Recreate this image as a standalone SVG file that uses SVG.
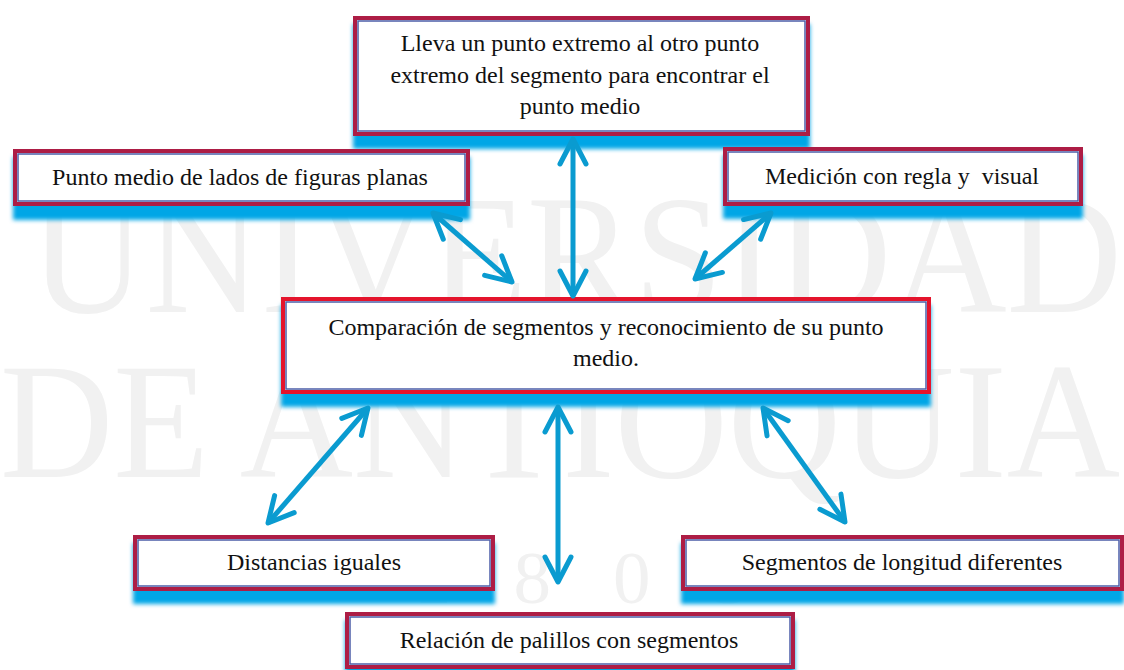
<svg xmlns="http://www.w3.org/2000/svg" width="1124" height="670" viewBox="0 0 1124 670">
<style>
.wm{font-family:"Liberation Serif","Times New Roman",serif;fill:#f1f1f1}
.t{font-family:"Liberation Serif","Times New Roman",serif;font-size:24px;fill:#111;text-anchor:middle}
.box{fill:#fff;stroke:#ad1d45;stroke-width:4}
.boxc{fill:#fff;stroke:#e4142c;stroke-width:4}
.inner{fill:none;stroke:#4c5ea8;stroke-width:1.5}
.sh{fill:#00a6e6;filter:url(#blur)}
.con{fill:none;stroke:#0a9bd0;stroke-width:5;marker-start:url(#ah);marker-end:url(#ah)}
</style>
<defs>
<filter id="blur" x="-10%" y="-40%" width="120%" height="180%"><feGaussianBlur stdDeviation="2"/></filter>
<marker id="ah" markerUnits="userSpaceOnUse" orient="auto-start-reverse" refX="0" refY="0" markerWidth="60" markerHeight="60" viewBox="-30 -30 60 60" overflow="visible">
<path d="M-25,-13 L0,0 L-25,13" fill="none" stroke="#0a9bd0" stroke-width="5" stroke-linecap="round" stroke-linejoin="round"/>
</marker>
</defs>
<rect width="1124" height="670" fill="#fff"/>
<g id="watermark">
<text class="wm" x="30" y="312" font-size="170" textLength="1092" lengthAdjust="spacingAndGlyphs">UNIVERSIDAD</text>
<text class="wm" x="0" y="477" font-size="166" textLength="1120" lengthAdjust="spacingAndGlyphs">DE ANTIOQUIA</text>
<text class="wm" x="414" y="603" font-size="75" letter-spacing="62">1803</text>
</g>
<g id="n-top">
<rect class="sh" x="353" y="24" width="457" height="125"/>
<rect class="box" x="355" y="18" width="453" height="116"/>
<rect class="inner" x="358" y="21" width="447" height="110"/>
<text class="t" x="580" y="51">Lleva un punto extremo al otro punto</text>
<text class="t" x="580" y="83">extremo del segmento para encontrar el</text>
<text class="t" x="580" y="114">punto medio</text>
</g>
<g id="n-left">
<rect class="sh" x="13" y="157" width="457" height="63"/>
<rect class="box" x="15" y="151" width="453" height="53"/>
<rect class="inner" x="18" y="154" width="447" height="47"/>
<text class="t" x="240" y="185">Punto medio de lados de figuras planas</text>
</g>
<g id="n-right">
<rect class="sh" x="723" y="155" width="360" height="64"/>
<rect class="box" x="725" y="149" width="356" height="55"/>
<rect class="inner" x="728" y="152" width="350" height="49"/>
<text class="t" x="902" y="184" xml:space="preserve">Medición con regla y  visual</text>
</g>
<g id="n-center">
<rect class="sh" x="281" y="305" width="650" height="102"/>
<rect class="boxc" x="283" y="299" width="646" height="93"/>
<rect class="inner" x="286" y="302" width="640" height="87"/>
<text class="t" x="606" y="335">Comparación de segmentos y reconocimiento de su punto</text>
<text class="t" x="606" y="366">medio.</text>
</g>
<g id="n-dist">
<rect class="sh" x="133" y="543" width="362" height="61"/>
<rect class="box" x="135" y="537" width="358" height="52"/>
<rect class="inner" x="138" y="540" width="352" height="46"/>
<text class="t" x="314" y="570">Distancias iguales</text>
</g>
<g id="n-seg">
<rect class="sh" x="681" y="543" width="443" height="61"/>
<rect class="box" x="683" y="537" width="439" height="52"/>
<rect class="inner" x="686" y="540" width="433" height="46"/>
<text class="t" x="902" y="570">Segmentos de longitud diferentes</text>
</g>
<g id="n-rel">
<rect class="sh" x="345" y="620" width="450" height="60"/>
<rect class="box" x="347" y="614" width="446" height="53"/>
<rect class="inner" x="350" y="617" width="440" height="47"/>
<text class="t" x="569" y="648">Relación de palillos con segmentos</text>
</g>
<g id="connectors">
<line class="con" x1="573" y1="139" x2="573" y2="296"/>
<line class="con" x1="433" y1="213" x2="512" y2="282"/>
<line class="con" x1="771" y1="213" x2="695" y2="279"/>
<line class="con" x1="368" y1="408" x2="268" y2="523"/>
<line class="con" x1="558" y1="407" x2="558" y2="582"/>
<line class="con" x1="763" y1="408" x2="845" y2="522"/>
</g>
</svg>
